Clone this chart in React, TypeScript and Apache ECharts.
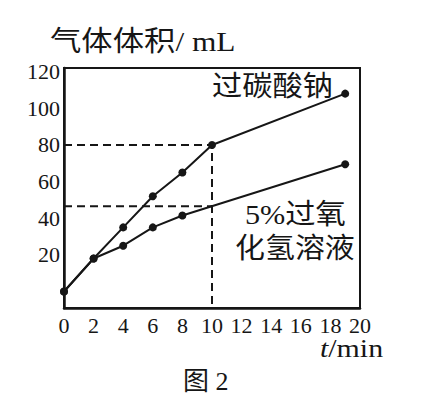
import React, { useEffect, useRef } from "react";
import * as echarts from "echarts";

// Data
const timeTicks = [0, 2, 4, 6, 8, 10, 12, 14, 16, 18, 20];
const volumeTicks = [20, 40, 60, 80, 100, 120];

const percarbonateTime = [0, 2, 4, 6, 8, 10, 19];
const percarbonateVolume = [0, 18, 35, 52, 65, 80, 108];

const peroxideTime = [0, 2, 4, 6, 8, 19];
const peroxideVolume = [0, 18, 25, 35, 41.5, 69.5];

const yMin = -9;
const yMax = 122;
const guideTime = 10;
const guideHigh = 80;
const guideLow = 46.6;

const SERIF = "'Liberation Serif', 'DejaVu Serif', 'Noto Sans CJK SC', serif";
const INK = "#161616";

export default function App() {
  const ref = useRef<HTMLDivElement>(null);

  useEffect(() => {
    if (!ref.current) return;
    const chart = echarts.init(ref.current, undefined, { renderer: "svg" });

    const upper = percarbonateTime.map((t, i) => [t, percarbonateVolume[i]]);
    const lower = peroxideTime.map((t, i) => [t, peroxideVolume[i]]);
    const dashStyle = { color: INK, width: 2, type: [8, 5] as any };

    chart.setOption({
      animation: false,
      backgroundColor: "#ffffff",
      grid: {
        left: 64,
        right: 65,
        top: 68,
        bottom: 98,
        show: true,
        borderColor: INK,
        borderWidth: 2,
        backgroundColor: "transparent",
      },
      xAxis: {
        type: "value",
        min: 0,
        max: 20,
        axisLine: { show: true, onZero: false, lineStyle: { color: INK, width: 2.5 } },
        axisTick: { show: false },
        splitLine: { show: false },
        axisLabel: {
          customValues: timeTicks,
          color: INK,
          fontFamily: SERIF,
          fontSize: 22,
          margin: 6,
        },
      },
      yAxis: {
        type: "value",
        min: yMin,
        max: yMax,
        axisLine: { show: true, onZero: false, lineStyle: { color: INK, width: 2.5 } },
        axisTick: { show: false },
        splitLine: { show: false },
        axisLabel: {
          customValues: volumeTicks,
          color: INK,
          fontFamily: SERIF,
          fontSize: 22,
          margin: 4,
        },
      },
      series: [
        {
          type: "line",
          data: [
            [0, guideHigh],
            [guideTime, guideHigh],
            [guideTime, yMin],
          ],
          symbol: "none",
          lineStyle: dashStyle,
          silent: true,
          z: 1,
        },
        {
          type: "line",
          data: [
            [0, guideLow],
            [guideTime, guideLow],
          ],
          symbol: "none",
          lineStyle: dashStyle,
          silent: true,
          z: 1,
        },
        {
          name: "过碳酸钠",
          type: "line",
          data: upper,
          symbol: "circle",
          symbolSize: 8,
          itemStyle: { color: INK },
          lineStyle: { color: INK, width: 2 },
          z: 3,
        },
        {
          name: "5%过氧化氢溶液",
          type: "line",
          data: lower,
          symbol: "circle",
          symbolSize: 8,
          itemStyle: { color: INK },
          lineStyle: { color: INK, width: 2 },
          z: 3,
        },
      ],
      graphic: [
        {
          type: "text",
          x: 50,
          y: 42,
          scaleX: 1.12,
          style: {
            text: "气体体积/ mL",
            fontFamily: SERIF,
            fontSize: 28,
            fill: INK,
            textAlign: "left",
            textVerticalAlign: "middle",
          },
        },
        {
          type: "text",
          x: 212,
          y: 86,
          scaleX: 1.08,
          style: {
            text: "过碳酸钠",
            fontFamily: SERIF,
            fontSize: 28,
            fill: INK,
            textAlign: "left",
            textVerticalAlign: "middle",
          },
        },
        {
          type: "text",
          x: 245,
          y: 214,
          scaleX: 1.08,
          style: {
            text: "5%过氧",
            fontFamily: SERIF,
            fontSize: 28,
            fill: INK,
            textAlign: "left",
            textVerticalAlign: "middle",
          },
        },
        {
          type: "text",
          x: 235,
          y: 248,
          scaleX: 1.07,
          style: {
            text: "化氢溶液",
            fontFamily: SERIF,
            fontSize: 28,
            fill: INK,
            textAlign: "left",
            textVerticalAlign: "middle",
          },
        },
        {
          type: "text",
          x: 320,
          y: 348,
          scaleX: 1.15,
          style: {
            text: "{i|t}/min",
            fontFamily: SERIF,
            fontSize: 26,
            fill: INK,
            textAlign: "left",
            textVerticalAlign: "middle",
            rich: {
              i: { fontStyle: "italic", fontFamily: SERIF, fontSize: 26, fill: INK },
            },
          },
        },
        {
          type: "text",
          x: 183,
          y: 381,
          style: {
            text: "图 2",
            fontFamily: SERIF,
            fontSize: 26,
            fill: INK,
            textAlign: "left",
            textVerticalAlign: "middle",
          },
        },
      ],
    });

    return () => chart.dispose();
  }, []);

  return <div ref={ref} style={{ width: 425, height: 406, margin: -8 }} />;
}
